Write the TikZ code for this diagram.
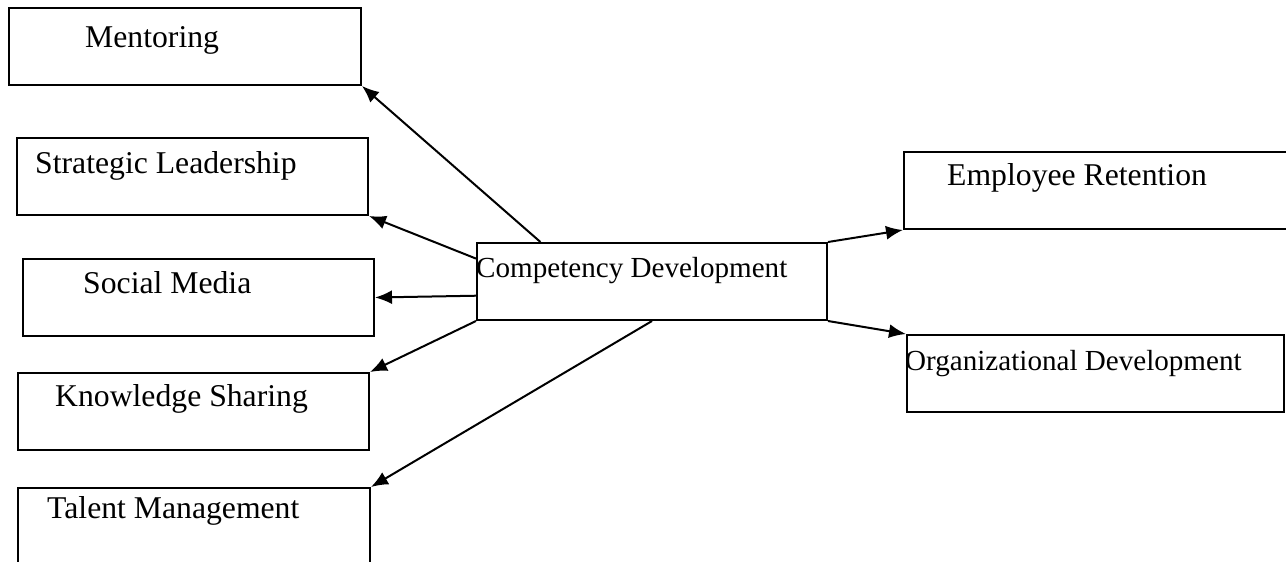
\documentclass[tikz,border=0pt]{standalone}
\usepackage{fontspec}
\setmainfont{Liberation Serif}
\usetikzlibrary{arrows.meta,calc}

\begin{document}
\begin{tikzpicture}[x=1pt, y=-1pt,
    box/.style={draw, line width=2pt, inner sep=0pt, anchor=north west,
                minimum width=351pt, minimum height=77pt},
    txt/.style={anchor=base west, inner sep=0pt, font=\fontsize{31.7}{38}\selectfont},
    txtsmall/.style={txt, font=\fontsize{29.1}{35}\selectfont},
    link/.style={line width=2pt, -{Latex[length=17pt,width=14pt]}}]
    \useasboundingbox (0,0) rectangle (1286,562);
    \clip (0,0) rectangle (1286,562);

    % boxes on the left
    \node[box, minimum width=352pt] (ment) at (8,7) {};
    \node[box] (strat) at (16,137) {};
    \node[box] (social) at (22,258) {};
    \node[box] (know) at (17,372) {};
    \node[box, minimum width=352pt, minimum height=120pt] (talent) at (17,487) {};

    % middle and right
    \node[box, minimum width=350pt] (comp) at (476,242) {};
    \node[box, minimum width=400pt] (emp) at (903,151) {};
    \node[box, minimum width=377pt] (org) at (906,334) {};

    % texts
    \node[txt] (mentT) at (85,47) {Mentoring};
    \node[txt] (stratT) at (35,173) {Strategic Leadership};
    \node[txt] (socialT) at (83,293) {Social Media};
    \node[txt] (knowT) at (55,406) {Knowledge Sharing};
    \node[txt] (talentT) at (47,518) {Talent Management};
    \node[txtsmall] (compT) at (476,277) {Competency Development};
    \node[txt] (empT) at (947,185) {Employee Retention};
    \node[txtsmall] (orgT) at (905,370) {Organizational Development};

    % arrows
    \draw[link] ($(comp.north west)!0.183!(comp.north east)$) -- (ment.south east);
    \draw[link] ($(comp.north west)!0.21!(comp.south west)$) -- (strat.south east);
    \draw[link] ($(comp.north west)!0.68!(comp.south west)$) -- (social.east);
    \draw[link] (comp.south west) -- (know.north east);
    \draw[link] (comp.south) -- (talent.north east);
    \draw[link] (comp.north east) -- (emp.south west);
    \draw[link] (comp.south east) -- (org.north west);
\end{tikzpicture}
\end{document}
